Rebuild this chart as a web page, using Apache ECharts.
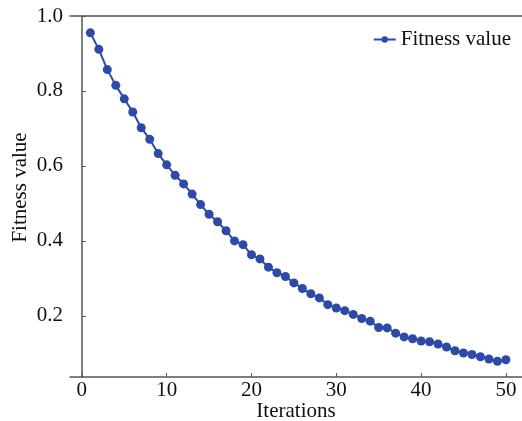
<!DOCTYPE html>
<html><head><meta charset="utf-8">
<script src="https://cdn.jsdelivr.net/npm/echarts@6/dist/echarts.min.js"></script>
<style>html,body{margin:0;padding:0;background:#fff}#c{width:522px;height:421px}</style>
</head><body><div id="c"></div>
<script>
const iterations = [1,2,3,4,5,6,7,8,9,10,11,12,13,14,15,16,17,18,19,20,21,22,23,24,25,26,27,28,29,30,31,32,33,34,35,36,37,38,39,40,41,42,43,44,45,46,47,48,49,50];
const fitness = [0.955,0.911,0.857,0.815,0.779,0.744,0.702,0.671,0.633,0.603,0.575,0.552,0.525,0.497,0.471,0.451,0.427,0.400,0.390,0.363,
  0.352,0.330,0.315,0.305,0.288,0.273,0.259,0.248,0.230,0.221,0.214,0.204,0.193,0.186,0.169,0.168,0.154,0.144,0.139,0.133,
  0.131,0.125,0.117,0.107,0.101,0.097,0.091,0.085,0.079,0.083];
const xTicks = [0,10,20,30,40,50];
const yTicks = [0.2,0.4,0.6,0.8,1.0];
const seriesName = 'Fitness value';

const font = 'Liberation Serif';
const chart = echarts.init(document.getElementById('c'));
chart.setOption({
  animation: false,
  backgroundColor: '#fff',
  textStyle: {fontFamily: font},
  grid: {left: 70, top: 16, right: 0, bottom: 44, outerBoundsMode: 'none', containLabel: false},
  legend: {
    right: 6, top: 24,
    itemWidth: 22, itemHeight: 8, itemGap: 4,
    textStyle: {fontFamily: font, fontSize: 21, color: '#111'},
    data: [seriesName]
  },
  xAxis: [{
    type: 'value', min: -1.4, max: 51.9,
    name: 'Iterations', nameLocation: 'middle', nameGap: 24, nameMoveOverlap: false,
    nameTextStyle: {fontFamily: font, fontSize: 21, color: '#111'},
    axisLine: {show: true, onZero: false, lineStyle: {color: '#555', width: 1.5}},
    axisTick: {show: true, inside: true, length: 4, customValues: xTicks, lineStyle: {color: '#555'}},
    axisLabel: {customValues: xTicks, fontFamily: font, fontSize: 21, color: '#111', margin: 3},
    splitLine: {show: false}
  }, {
    type: 'value', position: 'top', min: -1.4, max: 51.9,
    axisLine: {show: true, lineStyle: {color: '#555', width: 1.5}},
    axisTick: {show: false}, axisLabel: {show: false}, splitLine: {show: false}
  }],
  yAxis: {
    type: 'value', min: 0.037, max: 1.0,
    name: 'Fitness value', nameLocation: 'middle', nameGap: 39, nameMoveOverlap: false,
    nameTextStyle: {fontFamily: font, fontSize: 21, color: '#111', padding: [0, 0, 0, 18]},
    axisLine: {show: true, lineStyle: {color: '#555', width: 1.5}},
    axisTick: {show: true, inside: true, length: 4, customValues: yTicks, lineStyle: {color: '#555'}},
    axisLabel: {customValues: yTicks, fontFamily: font, fontSize: 21, color: '#111', margin: 7,
      formatter: v => v.toFixed(1)},
    splitLine: {show: false}
  },
  series: [{
    name: seriesName, type: 'line', xAxisIndex: 0,
    data: iterations.map((x, i) => [x, fitness[i]]),
    symbol: 'circle', symbolSize: 9,
    lineStyle: {color: '#2d4aa8', width: 2},
    itemStyle: {color: '#2d4aa8'}
  }]
});
</script></body></html>
